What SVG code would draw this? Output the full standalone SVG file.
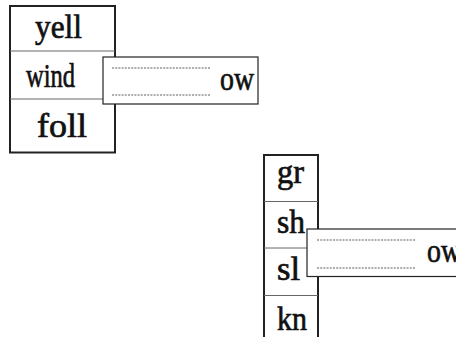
<svg xmlns="http://www.w3.org/2000/svg" width="456" height="337" viewBox="0 0 456 337">
<style>
.box{fill:#fff;stroke:#222;stroke-width:2}
.div{stroke:#666;stroke-width:1}
.ov{fill:#fff;stroke:#222;stroke-width:1.2}
.dot{stroke:#333;stroke-width:0.8;stroke-dasharray:2 1.2}
text{font-family:"Liberation Serif","Times New Roman",serif;font-size:34px;fill:#111;stroke:#111;stroke-width:0.7}
</style>
<rect width="456" height="337" fill="#fff"/>
<g id="stack1">
<rect class="box" x="10" y="6" width="105" height="146.5"/>
<line class="div" x1="10" y1="51" x2="115" y2="51"/>
<line class="div" x1="10" y1="99" x2="115" y2="99"/>
<text x="35" y="38" textLength="47" lengthAdjust="spacingAndGlyphs">yell</text>
<text x="26" y="87" textLength="49" lengthAdjust="spacingAndGlyphs">wind</text>
<text x="37" y="137" textLength="50" lengthAdjust="spacingAndGlyphs">foll</text>
</g>
<g id="overlay1">
<rect class="ov" x="103" y="57" width="155" height="47"/>
<line class="dot" x1="112" y1="68" x2="211" y2="68"/>
<line class="dot" x1="112" y1="95" x2="211" y2="95"/>
<text x="220" y="90" textLength="34" lengthAdjust="spacingAndGlyphs">ow</text>
</g>
<g id="stack2">
<rect class="box" x="264" y="155" width="54" height="200"/>
<line class="div" x1="264" y1="201.5" x2="318" y2="201.5"/>
<line class="div" x1="264" y1="248" x2="318" y2="248"/>
<line class="div" x1="264" y1="295.5" x2="318" y2="295.5"/>
<text x="277" y="183" textLength="27" lengthAdjust="spacingAndGlyphs">gr</text>
<text x="277" y="233" textLength="28" lengthAdjust="spacingAndGlyphs">sh</text>
<text x="277" y="280" textLength="23" lengthAdjust="spacingAndGlyphs">sl</text>
<text x="277" y="330" textLength="30" lengthAdjust="spacingAndGlyphs">kn</text>
</g>
<g id="overlay2">
<rect class="ov" x="307" y="229" width="160" height="47.5"/>
<line class="dot" x1="317" y1="240" x2="416" y2="240"/>
<line class="dot" x1="317" y1="268" x2="416" y2="268"/>
<text x="427" y="262" textLength="34" lengthAdjust="spacingAndGlyphs">ow</text>
</g>
<g id="connectors"></g>
</svg>
